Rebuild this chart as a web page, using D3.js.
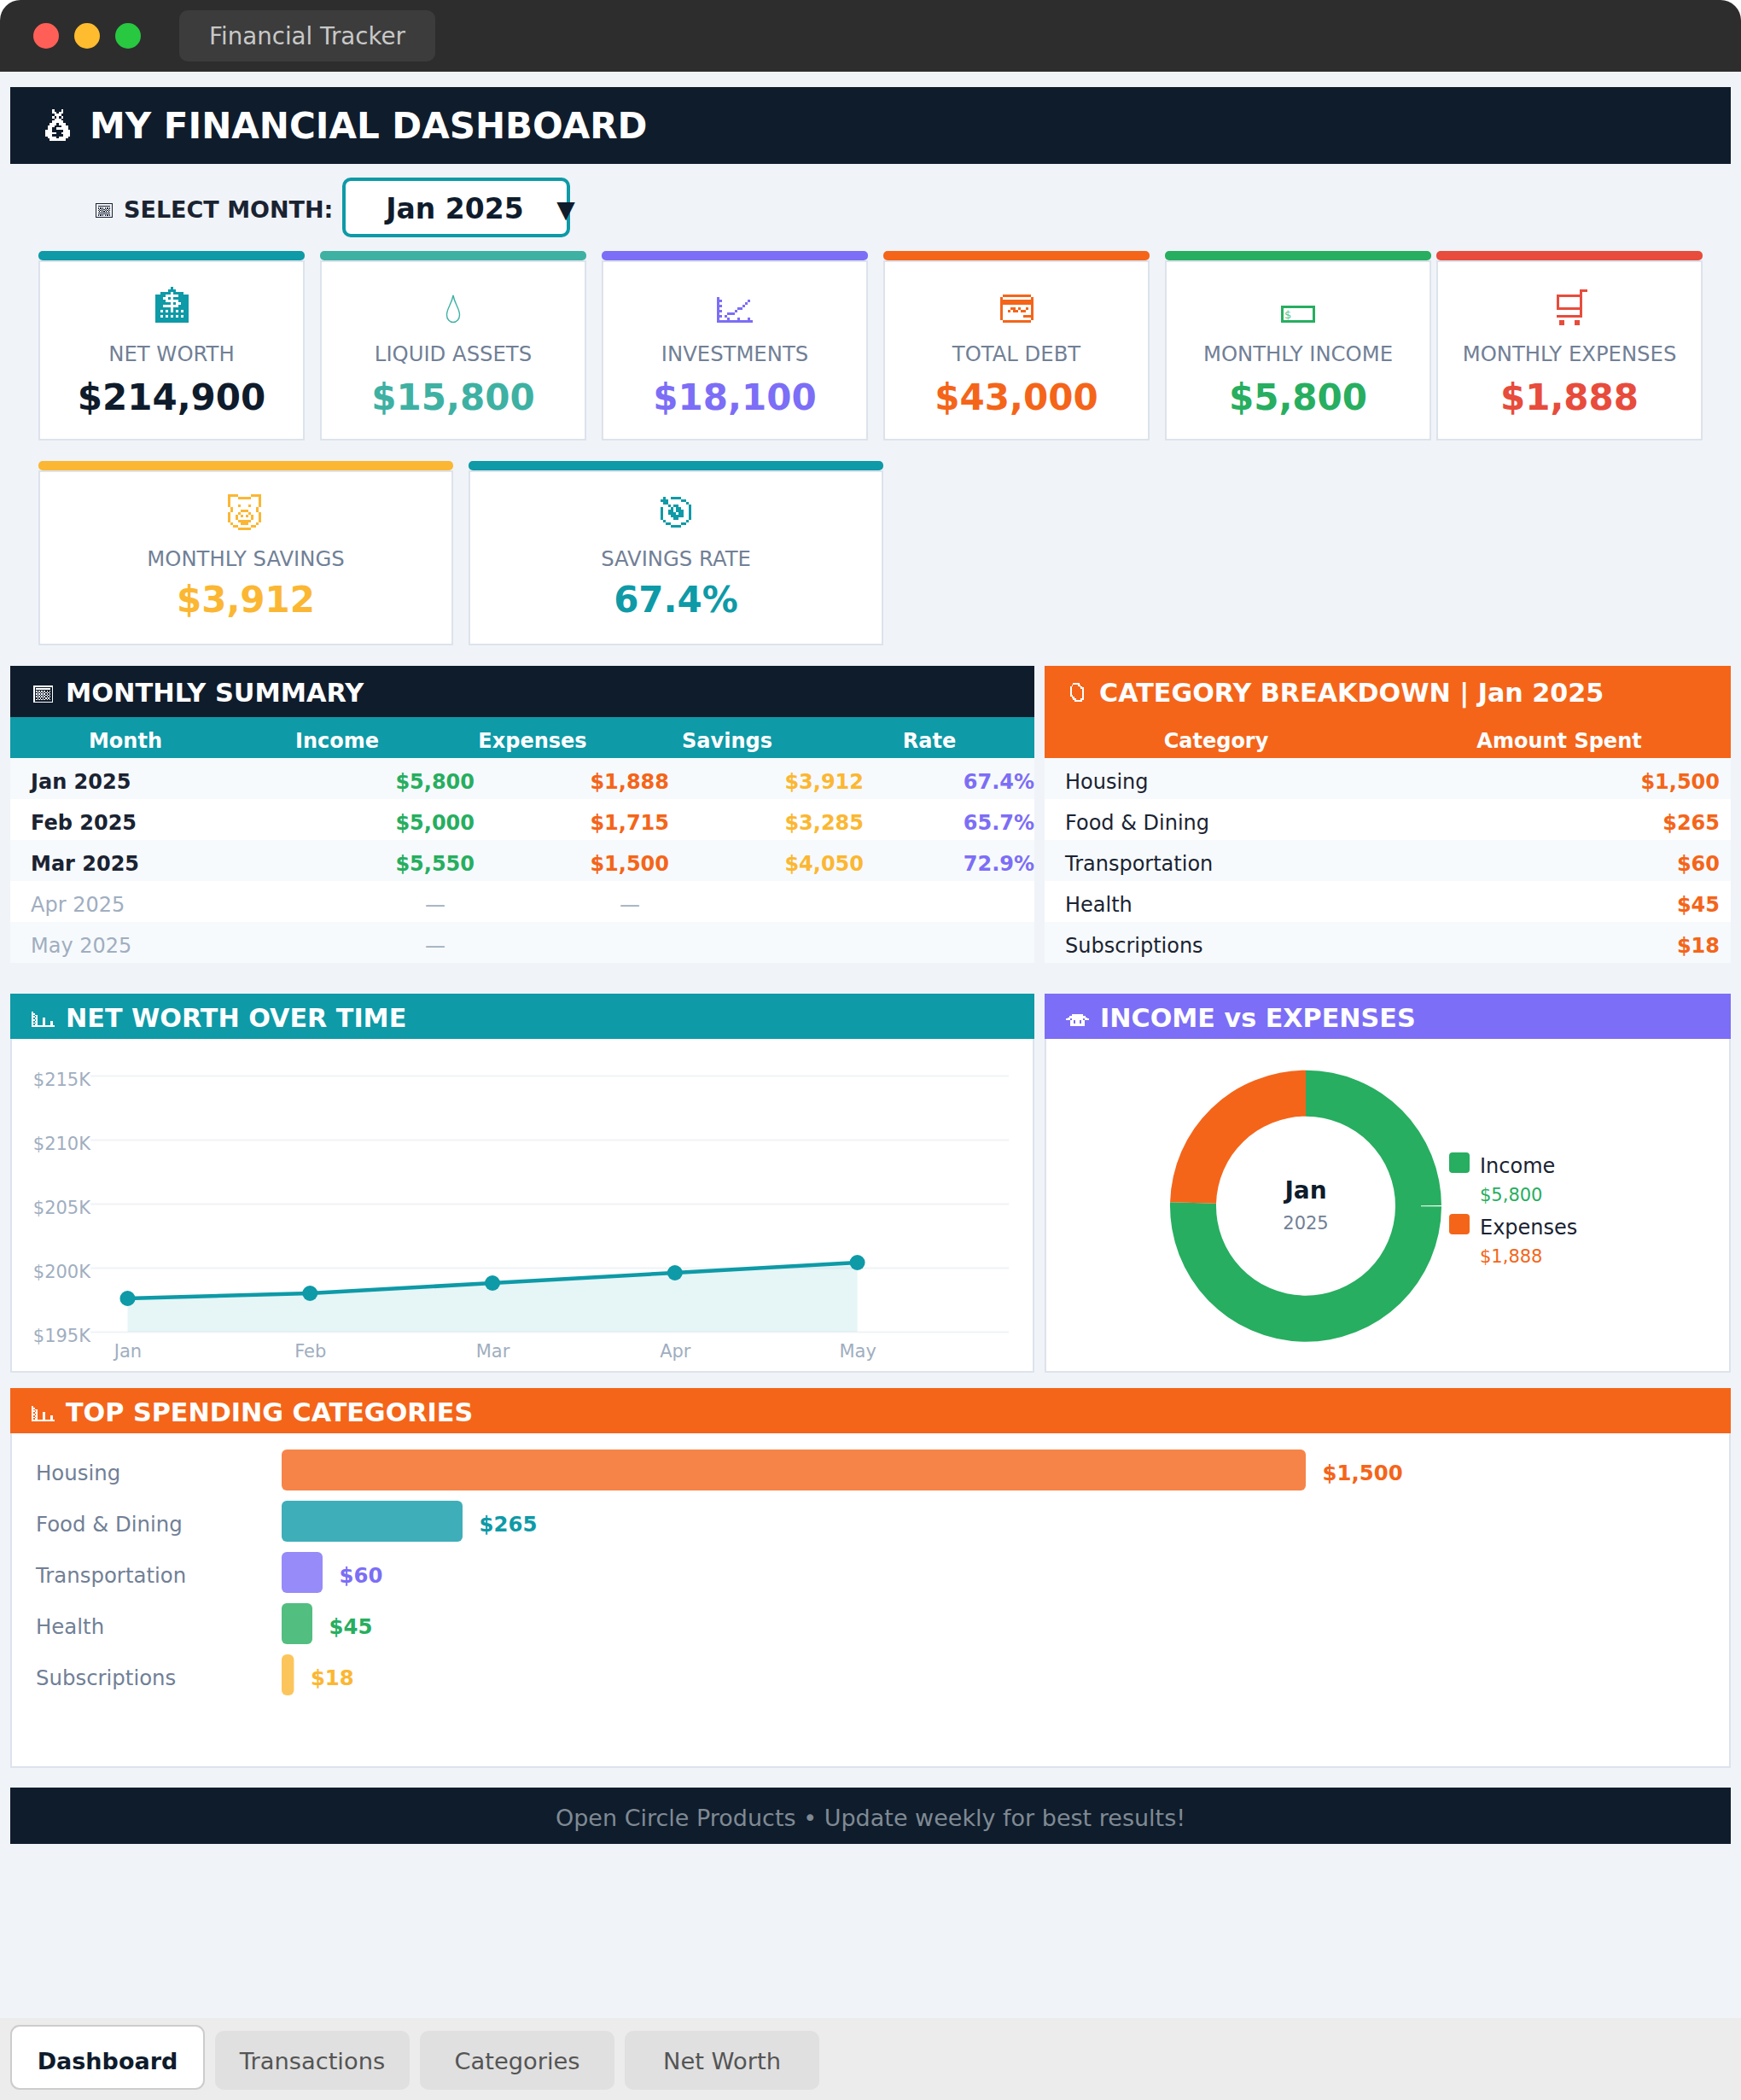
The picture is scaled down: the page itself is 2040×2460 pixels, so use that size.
<!DOCTYPE html>
<html>
<head>
<meta charset="utf-8">
<title>Financial Tracker</title>
<script src="https://cdnjs.cloudflare.com/ajax/libs/d3/7.8.5/d3.min.js"></script>
<style>
html, body { margin: 0; padding: 0; background: #fff; }
svg { display: block; }
text { font-family: "DejaVu Sans", sans-serif; }
</style>
</head>
<body>
<div id="page"></div>
<script>
var cardLabels = ["NET WORTH", "LIQUID ASSETS", "INVESTMENTS", "TOTAL DEBT", "MONTHLY INCOME", "MONTHLY EXPENSES", "MONTHLY SAVINGS", "SAVINGS RATE"];
var cardValues = ["$214,900", "$15,800", "$18,100", "$43,000", "$5,800", "$1,888", "$3,912", "67.4%"];

var summaryColumns = ["Month", "Income", "Expenses", "Savings", "Rate"];
var summaryMonths = ["Jan 2025", "Feb 2025", "Mar 2025", "Apr 2025", "May 2025"];
var summaryIncome = ["$5,800", "$5,000", "$5,550", "—", "—"];
var summaryExpenses = ["$1,888", "$1,715", "$1,500", "—", ""];
var summarySavings = ["$3,912", "$3,285", "$4,050", "", ""];
var summaryRate = ["67.4%", "65.7%", "72.9%", "", ""];

var categories = ["Housing", "Food & Dining", "Transportation", "Health", "Subscriptions"];
var categorySpend = [1500, 265, 60, 45, 18];

var netWorthMonths = ["Jan", "Feb", "Mar", "Apr", "May"];
var netWorthValues = [197600, 198000, 198800, 199600, 200400];
var netWorthTicks = [195000, 200000, 205000, 210000, 215000];

var donutLabels = ["Income", "Expenses"];
var donutValues = [5800, 1888];

var tabNames = ["Dashboard", "Transactions", "Categories", "Net Worth"];

// the little icons are low-res bitmap glyphs in the original
var iconBank = ["......#......", ".....###.....", "..####.####..", "####.....####", "###..#.######", "####.....####", "######.#..###", "###......####", "######.######", "##.#.#.#.#.##", "#############", "##.#.#.#.#.##", "#############", "#############"];
var iconTrend = ["#.............", "##..........#.", "#..........#..", "##........#...", "#.......##....", "##.....#......", "#...###.......", "##.#..........", "#...#...#...#.", "##############"];
var iconCard = [".###########.", "#...........#", "#############", "#############", "#...........#", "#...##.#..#.#", "#..#.##.##..#", "#...........#", "#........####", "#...........#", ".###########."];
var iconCart = [".........###", ".........#..", "##########..", "#........#..", "#........#..", "#........#..", "#........#..", "##########..", ".........#..", ".........#..", "##########..", "............", ".##....##...", ".##....##..."];
var iconPig = ["####.....####", "#...#####...#", "#...........#", "#...........#", "#...#...#...#", ".#.........#.", ".#...###...#.", "#...#...#...#", "#..#.#.#.#..#", "#..#.....#..#", "#...#####...#", ".#...###...#.", "..##.....##..", "....#####...."];
var iconTarget = [".#..####....", "###.....##..", ".##.......#.", "...#.##....#", "#...#.##...#", "#..##.###..#", "#..###.##..#", "#...#####..#", "#....##....#", ".#........#.", "..##....##..", "....####...."];
var iconBag = ["...#...#...", "...##.##...", "....###....", "...#.#.#...", "....###....", "...#####...", "..###.###..", ".###...###.", ".##..#####.", "###.....###", "#####..####", "###.....###", ".####.####.", "..#######.."];
var iconAbacus = ["###############", "#.............#", "#.###########.#", "#.............#", "#.#.#.#.#.#.#.#", "#..#.#.#.#.#..#", "#.#.#.#.#.#.#.#", "#..#.#.#.#.#..#", "#.#.#.#.#.#.#.#", "#..#.#.#.#.#..#", "#.#.#.#.#.#.#.#", "#.............#", "###############"];
var iconBars = ["#..............", "##.............", "#.##...........", "##.#...........", "#.##...##......", "##.#...##......", "#.##...##...##.", "##.#...##...##.", "#.##...##...##.", "###############"];
var iconTag = ["...####.....", "..#...##....", ".#.....##...", ".#......##..", ".#.......#..", ".#.......#..", ".#.......#..", ".#.......#..", ".##......#..", "..##.....#..", "...##...##..", "....#####..."];
var iconWings = ["....#######....", "..###########..", ".#############.", "###.#######.###", "...##.###.##...", "...##.###.##...", "...#########...", "...#########..."];

var cardIcons = [iconBank, null, iconTrend, iconCard, null, iconCart, iconPig, iconTarget];
var cardIconNames = ["🏦", "💧", "📈", "💳", "💵", "🛒", "🐷", "🎯"];
var cardIconTop = [336, 346, 348, 345, 358, 339, 579, 582];
var cardIconShift = [0, 0, 0, 0, 0, 3, -1.5, 0];

var NAVY = "#0f1c2c", TEAL = "#0e9aa7", MINT = "#3eb1a3", PURPLE = "#7c6ef6", ORANGE = "#f4651a",
    GREEN = "#27ae60", RED = "#e74c3c", YELLOW = "#fbb733", GREY = "#718096", LIGHT = "#a0aec0",
    INK = "#1a2332", BORDER = "#dde3ec", STRIPE = "#f7fafc";

var cardColors = [TEAL, MINT, PURPLE, ORANGE, GREEN, RED, YELLOW, TEAL];
var barColors = [ORANGE, TEAL, PURPLE, GREEN, YELLOW];
var donutColors = [GREEN, ORANGE];

var svg = d3.select("#page").append("svg").attr("width", 2040).attr("height", 2460);

function addRect(x, y, w, h, fill, rx) {
  return svg.append("rect").attr("x", x).attr("y", y).attr("width", w).attr("height", h)
    .attr("fill", fill).attr("rx", rx || 0);
}

function addText(x, y, str, size, fill, weight, anchor) {
  return svg.append("text").attr("x", x).attr("y", y).text(str)
    .attr("font-size", size).attr("fill", fill)
    .attr("font-weight", weight || "normal").attr("text-anchor", anchor || "start");
}

// one path out of a bitmap, name kept as a tooltip
function addIcon(x, y, cell, rows, color, name) {
  var d = "";
  rows.forEach(function(row, r) {
    for (var c = 0; c < row.length; c++) {
      if (row[c] == "#") {
        d += "M" + (x + c * cell) + "," + (y + r * cell) + "h" + cell + "v" + cell + "h" + (-cell) + "z";
      }
    }
  });
  var p = svg.append("path").attr("d", d).attr("fill", color).attr("shape-rendering", "crispEdges");
  p.append("title").text(name);
  return p;
}

// window chrome
addRect(0, 0, 2040, 120, "#2d2d2d", 24);
addRect(0, 84, 2040, 2376, "#f0f3f8");
var lights = ["#ff5f57", "#febc2e", "#28c840"];
lights.forEach(function(c, i) {
  svg.append("circle").attr("cx", 54 + i * 48).attr("cy", 42).attr("r", 15).attr("fill", c);
});
addRect(210, 12, 300, 60, "#3c3c3c", 10);
addText(360, 52, "Financial Tracker", 27.7, "#c8c8c8", "normal", "middle");

// title
addRect(12, 102, 2016, 90, NAVY);
addIcon(53, 128, 2.65, iconBag, "#fff", "💰");
addText(105, 162, "MY FINANCIAL DASHBOARD", 42, "#fff", "bold");

// month selector
addIcon(112, 238, 1.33, iconAbacus, INK, "🧮");
addText(145, 255, "SELECT MONTH:", 27, INK, "bold");
addRect(403, 210, 263, 66, "#fff", 8).attr("stroke", TEAL).attr("stroke-width", 4);
addText(533, 256, "Jan 2025", 33, NAVY, "bold", "middle");
addText(663, 255, "▼", 28, NAVY, "normal", "middle");

// kpi cards
var cardBoxes = [[45, 294, 312], [375, 294, 312], [705, 294, 312], [1035, 294, 312], [1365, 294, 312], [1683, 294, 312], [45, 540, 486], [549, 540, 486]];
cardLabels.forEach(function(label, i) {
  var b = cardBoxes[i], cx = b[0] + b[2] / 2, top = b[1], color = cardColors[i];
  var h = i < 6 ? 222 : 216;
  addRect(b[0] + 1, top + 12, b[2] - 2, h - 13, "#fff").attr("stroke", BORDER).attr("stroke-width", 2);
  addRect(b[0], top, b[2], 11, color, 5);

  var bits = cardIcons[i];
  if (bits) {
    addIcon(cx + cardIconShift[i] - bits[0].length * 1.5, cardIconTop[i], 3, bits, color, cardIconNames[i]);
  } else if (i == 1) {
    svg.append("path").attr("transform", "translate(" + cx + "," + (cardIconTop[i] + 16) + ")")
      .attr("d", "M0,-16 C2,-5 7.5,-1 7.5,7 A7.5,8.5 0 0 1 -7.5,7 C-7.5,-1 -2,-5 0,-16Z")
      .attr("fill", "none").attr("stroke", color).attr("stroke-width", 1.4)
      .append("title").text(cardIconNames[i]);
  } else {
    addRect(cx - 18.5, cardIconTop[i] + 1.5, 37, 17, "#fff").attr("stroke", color).attr("stroke-width", 3);
    addText(cx - 16, cardIconTop[i] + 15, "$", 13, "#5cc58a");
  }

  addText(cx, top + (i < 6 ? 129 : 123), label, 24.3, GREY, "normal", "middle");
  addText(cx, top + (i < 6 ? 186 : 177), cardValues[i], 42, i == 0 ? NAVY : color, "bold", "middle");
});

// monthly summary table
addRect(12, 780, 1200, 60, NAVY);
addIcon(39, 803, 1.55, iconAbacus, "#fff", "🧮");
addText(77, 822, "MONTHLY SUMMARY", 30.4, "#fff", "bold");
addRect(12, 840, 1200, 48, TEAL);
var summaryHeaderX = [147, 395, 624, 852, 1089];
summaryColumns.forEach(function(c, i) {
  addText(summaryHeaderX[i], 876, c, 24, "#fff", "bold", "middle");
});
summaryMonths.forEach(function(m, i) {
  var y = 888 + i * 48, base = y + 36;
  addRect(12, y, 1200, 48, i % 2 ? "#fff" : STRIPE);
  var filled = i < 3;
  addText(36, base, m, 24, filled ? INK : LIGHT, filled ? "bold" : "normal");
  if (filled) {
    addText(556, base, summaryIncome[i], 24, GREEN, "bold", "end");
    addText(784, base, summaryExpenses[i], 24, ORANGE, "bold", "end");
    addText(1012, base, summarySavings[i], 24, YELLOW, "bold", "end");
    addText(1212, base, summaryRate[i], 24, PURPLE, "bold", "end");
  } else {
    addText(510, base, summaryIncome[i], 24, LIGHT, "normal", "middle");
    addText(738, base, summaryExpenses[i], 24, LIGHT, "normal", "middle");
  }
});

// category breakdown table
addRect(1224, 780, 804, 108, ORANGE);
addIcon(1252, 800, 1.8, iconTag, "#fff", "🏷");
addText(1288, 822, "CATEGORY BREAKDOWN | Jan 2025", 30.2, "#fff", "bold");
addText(1425, 876, "Category", 24, "#fff", "bold", "middle");
addText(1827, 876, "Amount Spent", 24, "#fff", "bold", "middle");
categories.forEach(function(c, i) {
  var y = 888 + i * 48, base = y + 36;
  addRect(1224, y, 804, 48, i % 2 ? "#fff" : STRIPE);
  addText(1248, base, c, 24, INK);
  addText(2015, base, "$" + d3.format(",")(categorySpend[i]), 24, ORANGE, "bold", "end");
});

function addPanel(x, y, w, h, color, title, titleX, base) {
  addRect(x + 1, y + 1, w - 2, h - 2, "#fff").attr("stroke", BORDER).attr("stroke-width", 2);
  addRect(x, y, w, 53, color);
  addText(titleX, base, title, 30.2, "#fff", "bold");
}

// net worth line chart
addPanel(12, 1164, 1200, 444, TEAL, "NET WORTH OVER TIME", 77, 1203);
addIcon(37, 1185, 1.8, iconBars, "#fff", "📊");
var lineX = d3.scalePoint().domain(netWorthMonths).range([149.5, 1004.6]);
var lineY = d3.scaleLinear().domain([195000, 215000]).range([1560, 1260]);

var yAxis = svg.append("g").attr("transform", "translate(106,0)")
  .call(d3.axisLeft(lineY).tickValues(netWorthTicks).tickSize(-1076).tickPadding(0)
    .tickFormat(function(d) { return "$" + d / 1000 + "K"; }));
yAxis.select(".domain").remove();
yAxis.selectAll("line").attr("stroke", "#f0f3f7").attr("stroke-width", 2);
yAxis.selectAll("text").attr("font-size", 21).attr("fill", LIGHT).attr("dy", 11)
  .attr("font-family", '"DejaVu Sans", sans-serif');

var xAxis = svg.append("g").attr("transform", "translate(0,1560)")
  .call(d3.axisBottom(lineX).tickSize(0).tickPadding(0));
xAxis.select(".domain").remove();
xAxis.selectAll("text").attr("font-size", 21).attr("fill", LIGHT).attr("dy", 30)
  .attr("font-family", '"DejaVu Sans", sans-serif');

var areaGen = d3.area().x(function(d, i) { return lineX(netWorthMonths[i]); })
  .y0(lineY(195000)).y1(function(d) { return lineY(d); });
var lineGen = d3.line().x(function(d, i) { return lineX(netWorthMonths[i]); })
  .y(function(d) { return lineY(d); });
svg.append("path").datum(netWorthValues).attr("d", areaGen).attr("fill", TEAL).attr("fill-opacity", 0.1);
svg.append("path").datum(netWorthValues).attr("d", lineGen).attr("fill", "none").attr("stroke", TEAL).attr("stroke-width", 4.5);
svg.selectAll(".nw-dot").data(netWorthValues).enter().append("circle").attr("class", "nw-dot")
  .attr("cx", function(d, i) { return lineX(netWorthMonths[i]); })
  .attr("cy", function(d) { return lineY(d); })
  .attr("r", 9).attr("fill", TEAL);

// income vs expenses donut
addPanel(1224, 1164, 804, 444, PURPLE, "INCOME vs EXPENSES", 1289, 1203);
addIcon(1249, 1188, 1.8, iconWings, "#fff", "💸");
var donutCx = 1530, donutCy = 1412.7;
var pie = d3.pie().sort(null);
var arc = d3.arc().innerRadius(105).outerRadius(159);
var donut = svg.append("g").attr("transform", "translate(" + donutCx + "," + donutCy + ")");
donut.selectAll("path").data(pie(donutValues)).enter().append("path")
  .attr("d", arc).attr("fill", function(d, i) { return donutColors[i]; });
// thin light sliver on the right of the ring, seen in the original
donut.append("path").attr("fill", "#fff")
  .attr("d", d3.arc().innerRadius(135).outerRadius(159).startAngle(Math.PI / 2 - 0.004).endAngle(Math.PI / 2 + 0.004)());
addText(donutCx, 1404, "Jan", 28, NAVY, "bold", "middle");
addText(donutCx, 1440, "2025", 21, GREY, "normal", "middle");
donutLabels.forEach(function(l, i) {
  var off = i * 72;
  addRect(1698, 1350 + off, 24, 24, donutColors[i], 4);
  addText(1734, 1374 + off, l, 24, INK);
  addText(1734, 1407 + off, "$" + d3.format(",")(donutValues[i]), 21, donutColors[i]);
});

// top spending bars
addPanel(12, 1626, 2016, 445, ORANGE, "TOP SPENDING CATEGORIES", 77, 1665);
addIcon(37, 1647, 1.8, iconBars, "#fff", "📊");
var barX = d3.scaleLinear().domain([0, 1500]).range([330, 1530]);
var barY = d3.scaleBand().domain(categories).range([1698, 1986]).paddingInner(0.2).paddingOuter(0);
svg.selectAll(".bar").data(categorySpend).enter().append("rect").attr("class", "bar")
  .attr("x", barX(0))
  .attr("y", function(d, i) { return barY(categories[i]); })
  .attr("width", function(d) { return barX(d) - barX(0); })
  .attr("height", barY.bandwidth()).attr("rx", 6)
  .attr("fill", function(d, i) { return barColors[i]; }).attr("fill-opacity", 0.8);
categories.forEach(function(c, i) {
  var y = barY(c) + 36;
  addText(42, y, c, 24.4, GREY);
  addText(barX(categorySpend[i]) + 19.5, y, "$" + d3.format(",")(categorySpend[i]), 24.4, barColors[i], "bold");
});

// footer
addRect(12, 2094, 2016, 66, NAVY);
addText(1020, 2139, "Open Circle Products • Update weekly for best results!", 27, "#7f8a93", "normal", "middle");

// bottom tabs
addRect(0, 2364, 2040, 96, "#ececec");
tabNames.forEach(function(t, i) {
  var x = 12 + i * 240;
  if (i == 0) {
    addRect(x + 1, 2373, 226, 74, "#fff", 10).attr("stroke", "#ccc").attr("stroke-width", 2);
    addText(x + 114, 2424, t, 27, NAVY, "bold", "middle");
  } else {
    addRect(x, 2379, 228, 69, "#e0e0e0", 10);
    addText(x + 114, 2424, t, 27.3, "#555", "normal", "middle");
  }
});
</script>
</body>
</html>
